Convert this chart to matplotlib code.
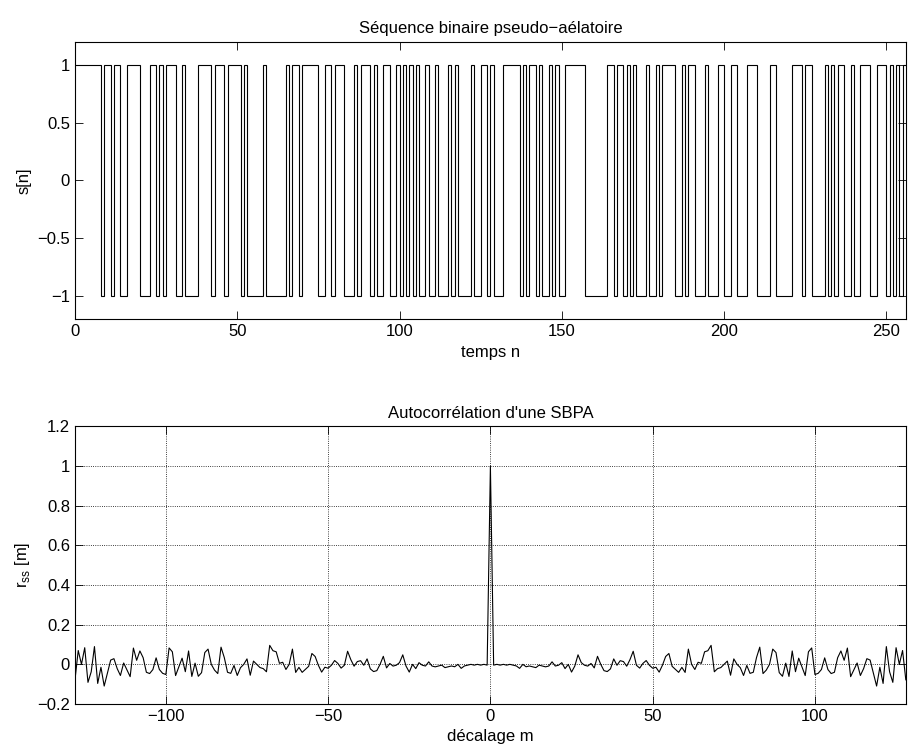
import numpy as np
import matplotlib
matplotlib.use("Agg")
import matplotlib.pyplot as plt
from matplotlib.ticker import FuncFormatter

# ---- data -----------------------------------------------------------------
# binary pseudo-random sequence s[n], n = 0..255 ('1' -> +1, '0' -> -1)
seq_bits = ("11111111011011001111000110101110010000111101110111101000001000000101101111100110"
            "11100010111010011001010101001001000101000010011010001111101011010010100111111000"
            "00001101101010001001011110010110001000110011000111000011000001110110000101011001"
            "0011100111010101")

# autocorrelation r_ss[m] for m = 0..128 (even function: r_ss[-m] = r_ss[m])
rss_pos = [1.0000, -0.0039, 0.0000, -0.0040, 0.0000, -0.0040, 0.0000, -0.0040, -0.0081, -0.0202,
           0.0000, -0.0122, -0.0082, -0.0123, -0.0165, -0.0041, -0.0083, -0.0126, -0.0084, 0.0127,
           -0.0085, -0.0043, 0.0085, -0.0215, 0.0000, -0.0390, -0.0087, 0.0480, 0.0088, -0.0044,
           -0.0088, 0.0044, -0.0179, 0.0404, 0.0000, -0.0317, -0.0364, -0.0228, 0.0275, -0.0046,
           0.0185, 0.0140, -0.0093, 0.0235, 0.0660, -0.0047, -0.0190, 0.0048, 0.0192, -0.0048,
           -0.0194, -0.0146, -0.0392, -0.0049, 0.0396, 0.0547, -0.0100, -0.0251, -0.0404, -0.0152,
           -0.0408, 0.0769, 0.0000, -0.0259, 0.0104,
           0.0052, 0.0632, 0.0688, 0.0957, -0.0374, -0.0215, -0.0162, 0.0000, 0.0164, -0.0549,
           0.0276, 0.0000, -0.0168, -0.0562, -0.0056, -0.0455, -0.0400, 0.0345, 0.0867, -0.0465,
           -0.0292, 0.0000, 0.0769, 0.0595, -0.0419, -0.0602, 0.0061, -0.0610, 0.0675, -0.0370,
           0.0311, -0.0125, -0.0566, 0.0633, 0.0828, -0.0513, -0.0452, -0.0260, 0.0327, -0.0263,
           -0.0464, -0.0400, 0.0336, 0.0676, 0.0204, 0.0822, -0.0621, -0.0278, 0.0070, -0.0563,
           -0.0213, 0.0286, 0.0216, -0.0435, -0.1095, -0.0147, -0.0963, 0.0896, -0.0376, -0.0909,
           0.0840, 0.0000, 0.0698, -0.0781]

top_xticks = [0, 50, 100, 150, 200, 250]
top_yticks = [-1, -0.5, 0, 0.5, 1]
bot_xticks = [-100, -50, 0, 50, 100]
bot_yticks = [-0.2, 0, 0.2, 0.4, 0.6, 0.8, 1, 1.2]

# ---- derived arrays --------------------------------------------------------
s = np.array([1 if c == '1' else -1 for c in seq_bits])
N = len(s)
rss_pos = np.array(rss_pos)
M = len(rss_pos) - 1
rss = np.concatenate([rss_pos[:0:-1], rss_pos])
lags = np.arange(-M, M + 1)

# ---- style -----------------------------------------------------------------
plt.rcParams['font.family'] = ['Liberation Sans', 'DejaVu Sans']
plt.rcParams['font.size'] = 12


def fmt(v, p):
    return f"{v:g}".replace('-', '\u2212')


fig = plt.figure(figsize=(9.1, 7.51), dpi=100)

# top: sequence
ax1 = fig.add_axes([0.0824, 0.575, 0.913, 0.3695])
ax1.stairs(s, np.arange(N + 1), baseline=None, color='k', lw=0.8)
ax1.set_xlim(0, 256)
ax1.set_ylim(-1.2, 1.2)
ax1.set_xticks(top_xticks)
ax1.set_yticks(top_yticks)
ax1.yaxis.set_major_formatter(FuncFormatter(fmt))
ax1.set_title("Séquence binaire pseudo\u2212aélatoire", fontsize=12)
ax1.set_xlabel("temps n")
ax1.set_ylabel("s[n]")

# bottom: autocorrelation
ax2 = fig.add_axes([0.0824, 0.0626, 0.913, 0.3695])
ax2.plot(lags, rss, color='k', lw=0.8)
ax2.set_xlim(-M, M)
ax2.set_ylim(-0.2, 1.2)
ax2.set_xticks(bot_xticks)
ax2.set_yticks(bot_yticks)
ax2.yaxis.set_major_formatter(FuncFormatter(fmt))
ax2.xaxis.set_major_formatter(FuncFormatter(fmt))
ax2.grid(True, color='k', linestyle=':', linewidth=0.6)
ax2.set_title("Autocorrélation d'une SBPA", fontsize=12)
ax2.set_xlabel("décalage m")
ax2.set_ylabel(r"r$_{\mathregular{ss}}$ [m]")

for ax in (ax1, ax2):
    ax.tick_params(direction='in', top=True, right=True, length=6, width=0.6)
    for sp in ax.spines.values():
        sp.set_linewidth(0.8)

fig.savefig("out.png")
